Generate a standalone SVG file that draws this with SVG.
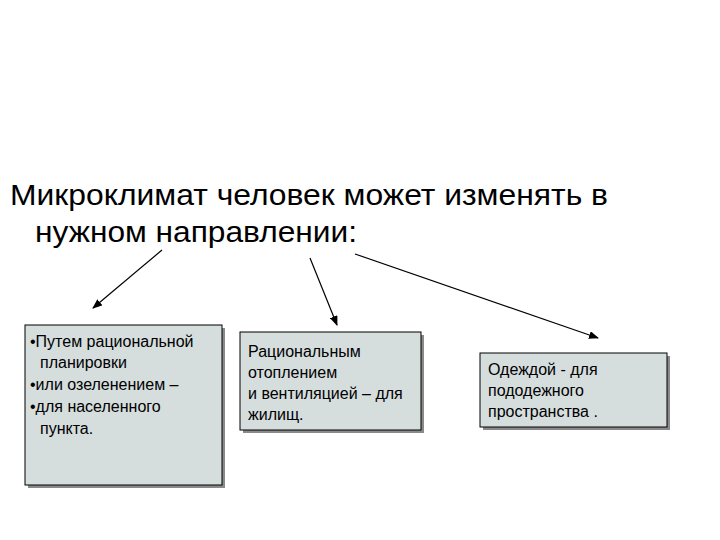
<svg xmlns="http://www.w3.org/2000/svg" width="720" height="540" viewBox="0 0 720 540">
<style>
.t{font-family:"Liberation Sans",Arial,sans-serif;fill:#000}
.b{fill:#d5dddd;stroke:#000;stroke-width:1}
.s{fill:#8a8a8a}
.c{stroke:#000;stroke-width:1.2;fill:none;marker-end:url(#a)}
</style>
<defs><marker id="a" markerWidth="10" markerHeight="8" refX="9" refY="4" orient="auto" markerUnits="userSpaceOnUse"><path d="M0,0 L10,4 L0,8 z" fill="#000"/></marker></defs>
<rect width="720" height="540" fill="#fff"/>
<g id="title"><text class="t" x="10" y="205" font-size="29" textLength="598" lengthAdjust="spacingAndGlyphs">Микроклимат человек может изменять в</text><text class="t" x="35" y="242" font-size="29" textLength="322" lengthAdjust="spacingAndGlyphs">нужном направлении:</text></g>
<g id="connectors">
<line class="c" x1="162" y1="250" x2="93" y2="308"/>
<line class="c" x1="310" y1="258" x2="337" y2="325"/>
<line class="c" x1="355" y1="254" x2="598" y2="338"/>
</g>
<g id="n1"><rect class="s" x="28" y="328" width="197" height="160"/><rect class="b" x="25" y="325" width="197" height="160"/>
<text class="t" font-size="16"><tspan x="30" y="347">•Путем рациональной</tspan><tspan x="40" y="368">планировки</tspan><tspan x="30" y="390">•или озеленением –</tspan><tspan x="30" y="412">•для населенного</tspan><tspan x="40" y="434">пункта.</tspan></text></g>
<g id="n2"><rect class="s" x="243" y="335" width="181" height="98"/><rect class="b" x="240" y="332" width="181" height="98"/>
<text class="t" font-size="16"><tspan x="248" y="357">Рациональным</tspan><tspan x="248" y="378">отоплением</tspan><tspan x="248" y="399">и вентиляцией – для</tspan><tspan x="248" y="420">жилищ.</tspan></text></g>
<g id="n3"><rect class="s" x="483" y="356" width="187" height="74"/><rect class="b" x="480" y="353" width="187" height="74"/>
<text class="t" font-size="16"><tspan x="488" y="375">Одеждой - для</tspan><tspan x="488" y="396">пододежного</tspan><tspan x="488" y="417">пространства .</tspan></text></g>
</svg>
